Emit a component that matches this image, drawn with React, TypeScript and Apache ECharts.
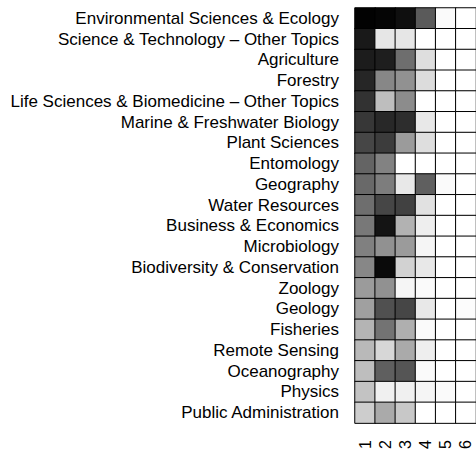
import React, { useEffect, useRef } from "react";
import * as echarts from "echarts";

const categories = [
  "Environmental Sciences & Ecology",
  "Science & Technology \u2013 Other Topics",
  "Agriculture",
  "Forestry",
  "Life Sciences & Biomedicine \u2013 Other Topics",
  "Marine & Freshwater Biology",
  "Plant Sciences",
  "Entomology",
  "Geography",
  "Water Resources",
  "Business & Economics",
  "Microbiology",
  "Biodiversity & Conservation",
  "Zoology",
  "Geology",
  "Fisheries",
  "Remote Sensing",
  "Oceanography",
  "Physics",
  "Public Administration",
];

const columns = ["1", "2", "3", "4", "5", "6"];

// intensity (0 = white, 255 = black) per column, rows in category order
const col1 = [253, 230, 227, 217, 205, 200, 185, 155, 150, 145, 135, 127, 120, 100, 95, 75, 70, 65, 60, 50];
const col2 = [250, 25, 225, 120, 65, 215, 195, 125, 130, 185, 235, 110, 245, 110, 175, 140, 40, 160, 15, 85];
const col3 = [240, 25, 145, 110, 115, 210, 100, 0, 23, 190, 77, 100, 45, 10, 185, 80, 85, 170, 15, 55];
const col4 = [165, 0, 33, 35, 0, 23, 33, 0, 160, 30, 17, 10, 23, 5, 23, 5, 17, 5, 10, 0];
const col5 = [5, 0, 0, 0, 0, 0, 0, 0, 5, 0, 0, 0, 0, 0, 0, 0, 0, 0, 5, 0];
const col6 = [0, 0, 0, 0, 0, 0, 0, 0, 0, 0, 0, 0, 0, 0, 3, 0, 0, 0, 0, 0];

const allCols = [col1, col2, col3, col4, col5, col6];

export default function App() {
  const ref = useRef<HTMLDivElement>(null);
  useEffect(() => {
    if (!ref.current) return;
    const chart = echarts.init(ref.current, null, { renderer: "svg" });
    const data: number[][] = [];
    allCols.forEach((col, ci) => {
      col.forEach((v, ri) => data.push([ci, ri, v]));
    });
    chart.setOption({
      animation: false,
      backgroundColor: "#ffffff",
      textStyle: { fontFamily: "Liberation Sans, Arial, sans-serif" },
      grid: { left: 355, top: 8, width: 124.5, height: 417 },
      xAxis: {
        type: "category",
        data: columns,
        axisLine: { show: false },
        axisTick: { show: false },
        splitLine: { show: false },
        axisLabel: { interval: 0, rotate: 90, margin: 17, fontSize: 16, color: "#000" },
      },
      yAxis: {
        type: "category",
        data: categories,
        inverse: true,
        axisLine: { show: false },
        axisTick: { show: false },
        splitLine: { show: false },
        axisLabel: { interval: 0, margin: 16, fontSize: 17, color: "#000" },
      },
      visualMap: {
        show: false,
        min: 0,
        max: 255,
        dimension: 2,
        inRange: { color: ["#ffffff", "#000000"] },
      },
      series: [
        {
          type: "heatmap",
          data,
          itemStyle: { borderColor: "#000000", borderWidth: 1 },
          emphasis: { disabled: true },
        },
      ],
    });
    return () => chart.dispose();
  }, []);
  return (
    <div
      ref={ref}
      style={{ position: "fixed", left: 0, top: 0, width: 476, height: 452 }}
    />
  );
}
